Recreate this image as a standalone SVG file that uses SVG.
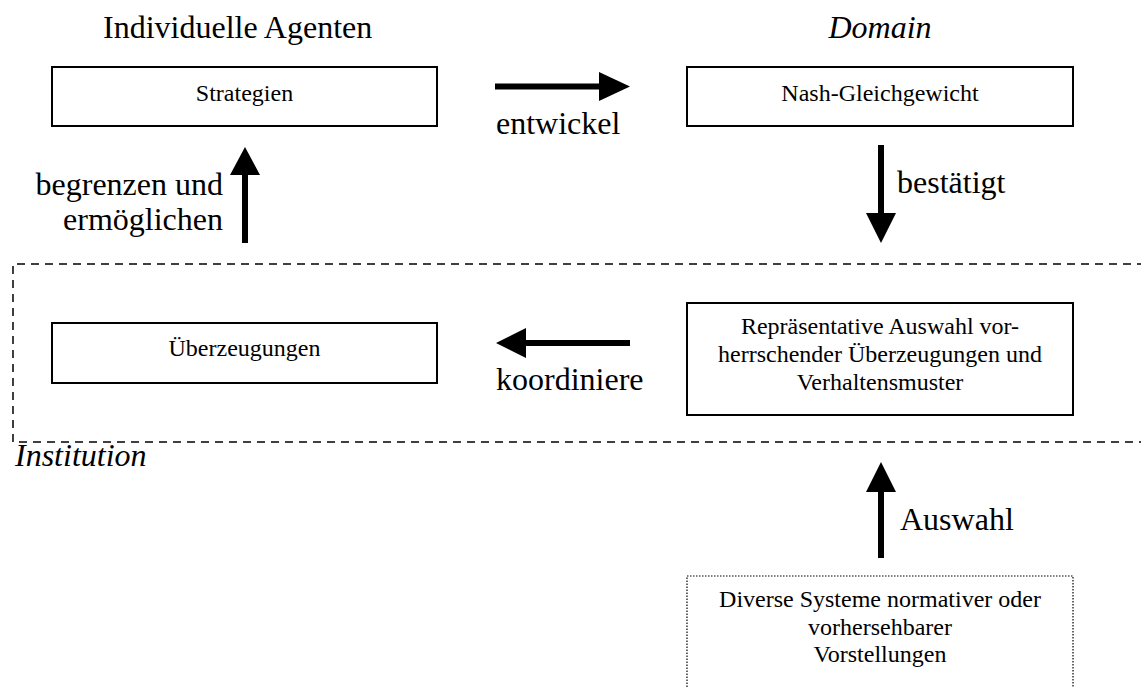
<svg xmlns="http://www.w3.org/2000/svg" width="1141" height="688" viewBox="0 0 1141 688">
<style>
.lbl{font-family:"Liberation Serif","Times New Roman",serif;font-size:32px;fill:#000}
.it{font-style:italic}
.nt{font-family:"Liberation Serif","Times New Roman",serif;font-size:24px;fill:#000}
.box{fill:#fff;stroke:#000;stroke-width:2}
.shaft{stroke:#000;stroke-width:6;fill:none}
.head{fill:#000}
</style>
<rect width="1141" height="688" fill="#fff"/>
<g id="institution-frame">
<path d="M1145,264 H13 V442 H1145" fill="none" stroke="#000" stroke-width="1.5" stroke-dasharray="8,6"/>
<text class="lbl it" x="15" y="466">Institution</text>
</g>
<text class="lbl" x="103" y="38">Individuelle Agenten</text>
<text class="lbl it" x="880" y="38" text-anchor="middle">Domain</text>
<g id="strategien">
<rect class="box" x="52" y="67" width="385" height="59"/>
<text class="nt" x="244.5" y="101" text-anchor="middle">Strategien</text>
</g>
<g id="nash">
<rect class="box" x="687" y="67" width="386" height="59"/>
<text class="nt" x="880" y="101" text-anchor="middle">Nash-Gleichgewicht</text>
</g>
<g id="ueberzeugungen">
<rect class="box" x="52" y="323" width="385" height="60"/>
<text class="nt" x="244.5" y="356" text-anchor="middle">Überzeugungen</text>
</g>
<g id="repraesentativ">
<rect class="box" x="687" y="303" width="386" height="112"/>
<text class="nt" x="880" y="334" text-anchor="middle">Repräsentative Auswahl vor-</text>
<text class="nt" x="880" y="362" text-anchor="middle">herrschender Überzeugungen und</text>
<text class="nt" x="880" y="390" text-anchor="middle">Verhaltensmuster</text>
</g>
<g id="diverse">
<rect x="687" y="576" width="386" height="130" fill="#fff" stroke="#000" stroke-width="1.2" stroke-dasharray="1.5,1.5"/>
<text class="nt" x="880" y="607" text-anchor="middle">Diverse Systeme normativer oder</text>
<text class="nt" x="880" y="635" text-anchor="middle">vorhersehbarer</text>
<text class="nt" x="880" y="662" text-anchor="middle">Vorstellungen</text>
</g>
<g id="connectors">
<line class="shaft" x1="495" y1="86.5" x2="601" y2="86.5"/>
<polygon class="head" points="599,72 630,86.5 599,101"/>
<line class="shaft" x1="881" y1="145" x2="881" y2="215"/>
<polygon class="head" points="866,213 896,213 881,243"/>
<line class="shaft" x1="245" y1="243" x2="245" y2="173"/>
<polygon class="head" points="230,175 260,175 245,147"/>
<line class="shaft" x1="630" y1="343" x2="524" y2="343"/>
<polygon class="head" points="526,328 496,343 526,358"/>
<line class="shaft" x1="881" y1="558" x2="881" y2="490"/>
<polygon class="head" points="866,492 896,492 881,462"/>
<text class="lbl" x="496" y="134">entwickel</text>
<text class="lbl" x="897" y="193">bestätigt</text>
<text class="lbl" x="223" y="195" text-anchor="end">begrenzen und</text>
<text class="lbl" x="223" y="230" text-anchor="end">ermöglichen</text>
<text class="lbl" x="496" y="390">koordiniere</text>
<text class="lbl" x="900" y="530">Auswahl</text>
</g>
</svg>
